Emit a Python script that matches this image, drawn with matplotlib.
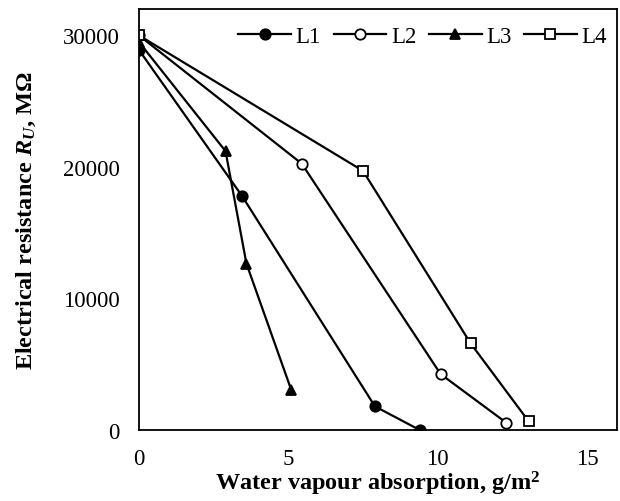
import numpy as np
import matplotlib.pyplot as plt

plt.rcParams['font.family'] = ['Liberation Serif', 'DejaVu Serif']
plt.rcParams['mathtext.fontset'] = 'custom'
plt.rcParams['mathtext.it'] = 'Liberation Serif:italic:bold'
plt.rcParams['mathtext.rm'] = 'Liberation Serif:bold'
plt.rcParams['mathtext.bf'] = 'Liberation Serif:bold'

# data
x_L1 = [0, 3.45, 7.9, 9.4]
y_L1 = [28900, 17800, 1800, 0]
x_L2 = [0, 5.45, 10.1, 12.3]
y_L2 = [30000, 20250, 4250, 550]
x_L3 = [0, 2.9, 3.6, 5.1]
y_L3 = [29500, 21200, 12650, 3050]
x_L4 = [0, 7.5, 11.1, 13.05]
y_L4 = [30000, 19700, 6600, 650]

xticks = [0, 5, 10, 15]
yticks = [0, 10000, 20000, 30000]

fig = plt.figure(figsize=(6.2, 5.02), dpi=100)
ax = fig.add_axes([0.224, 0.1414, 0.771, 0.8386])

kw = dict(color='black', lw=1.6, ms=7.5, mew=1.3)
ax.plot(x_L1, y_L1, marker='o', mfc='black', label='L1', **kw)
ax.plot(x_L2, y_L2, marker='o', mfc='white', label='L2', **kw)
ax.plot(x_L3, y_L3, marker='^', mfc='black', label='L3', **kw)
ax.plot(x_L4, y_L4, marker='s', mfc='white', label='L4', **kw)

ax.set_xlim(0, 16)
ax.set_ylim(0, 32000)
ax.set_xticks(xticks)
ax.set_yticks(yticks)
ax.tick_params(length=0, labelsize=16.5)
ax.tick_params(axis='x', pad=13)
ax.tick_params(axis='y', pad=14)
for s in ax.spines.values():
    s.set_linewidth(1.3)

ax.set_xlabel('Water vapour absorption, g/m$^\\mathbf{2}$', fontsize=17.5, fontweight='bold', labelpad=0)
ax.set_ylabel('Electrical resistance $R_U$, MΩ', fontsize=17.5, fontweight='bold', labelpad=18)

ax.legend(loc='upper right', ncol=4, frameon=False, fontsize=16.5, handlelength=2.3,
          handletextpad=0.2, columnspacing=0.55, borderaxespad=0, borderpad=0,
          bbox_to_anchor=(0.979, 0.96))

fig.savefig('out.png', dpi=100)
